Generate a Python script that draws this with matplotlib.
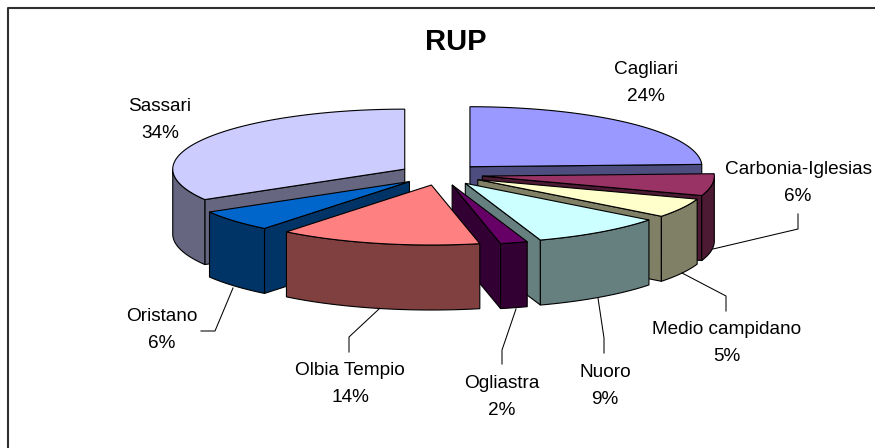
import matplotlib
matplotlib.use('Agg')
import matplotlib.pyplot as plt
import numpy as np

plt.rcParams['font.family'] = ['Liberation Sans', 'DejaVu Sans']

# slices in chart order, clockwise from 12 o'clock
names = ['Cagliari', 'Carbonia-Iglesias', 'Medio campidano', 'Nuoro',
         'Ogliastra', 'Olbia Tempio', 'Oristano', 'Sassari']
values = [24.4, 5.9, 5.2, 9.3, 1.9, 14.1, 5.8, 33.5]
pct_labels = ['24%', '6%', '5%', '9%', '2%', '14%', '6%', '34%']
tops = ['#9999FF', '#993366', '#FFFFCC', '#CCFFFF', '#660066', '#FF8080', '#0066CC', '#CCCCFF']
walls = ['#4D4D80', '#4D1A33', '#808066', '#668080', '#330033', '#804040', '#003366', '#666680']

# pie geometry, in pixels
cx, cy = 441, 174.5
rx, ry = 232, 60
depth = 65
explode = 0.18
# back to front
draw_order = [0, 7, 1, 6, 2, 3, 4, 5]

# centre x and name baseline of each label
label_pos = [(646, 74), (798, 174), (727, 334), (605, 377),
             (502, 388), (350, 375), (162, 321), (160, 111)]
leaders = {
    1: [(713, 249), (798, 229), (798, 214)],
    2: [(682, 273), (726, 296), (726, 311)],
    3: [(598, 298), (604, 338), (604, 353)],
    4: [(516, 309), (502, 350), (502, 364)],
    5: [(379, 309), (349, 337), (349, 352)],
    6: [(233, 288), (215, 331), (201, 331)],
}

fig = plt.figure(figsize=(8.75, 4.48), dpi=100)
ax = fig.add_axes([0, 0, 1, 1])
ax.set_xlim(0, 875)
ax.set_ylim(448, 0)
ax.axis('off')

edges = np.cumsum([0] + values) / sum(values) * 360


def rim(ox, oy, deg):
    t = np.radians(deg)
    return ox + rx * np.sin(t), oy - ry * np.cos(t)


for i in draw_order:
    a, b = edges[i], edges[i + 1]
    mid = np.radians((a + b) / 2)
    ox = cx + explode * rx * np.sin(mid)
    oy = cy - explode * ry * np.cos(mid)

    # cut faces that look towards the viewer
    for deg, visible in ((a, np.sin(np.radians(a)) < -1e-6), (b, np.sin(np.radians(b)) > 1e-6)):
        if visible:
            x, y = rim(ox, oy, deg)
            ax.fill([ox, x, x, ox], [oy, y, y + depth, oy + depth],
                    facecolor=walls[i], edgecolor='black', lw=0.8, zorder=1)

    # outer wall, front half of the rim only
    lo, hi = max(a, 90), min(b, 270)
    if hi > lo:
        x, y = rim(ox, oy, np.linspace(lo, hi, 60))
        ax.fill(np.r_[x, x[::-1]], np.r_[y, y[::-1] + depth],
                facecolor=walls[i], edgecolor='black', lw=0.8, zorder=1)

    x, y = rim(ox, oy, np.linspace(a, b, 120))
    ax.fill(np.r_[ox, x], np.r_[oy, y], facecolor=tops[i], edgecolor='black', lw=0.8, zorder=1)

for i, pts in leaders.items():
    xs, ys = zip(*pts)
    ax.plot(xs, ys, color='black', lw=0.75, zorder=2)

for name, pct, (x, y) in zip(names, pct_labels, label_pos):
    ax.text(x, y, name, ha='center', va='baseline', fontsize=13.7, color='black')
    ax.text(x, y + 27, pct, ha='center', va='baseline', fontsize=13.7, color='black')

ax.text(456, 50, 'RUP', ha='center', va='baseline', fontsize=21, fontweight='bold', color='black')

# chart frame, the image is cropped at right and bottom
ax.plot([8, 8, 875], [448, 8, 8], color='#303030', lw=1.5, clip_on=False, zorder=3)

fig.savefig('out.png', dpi=100)
